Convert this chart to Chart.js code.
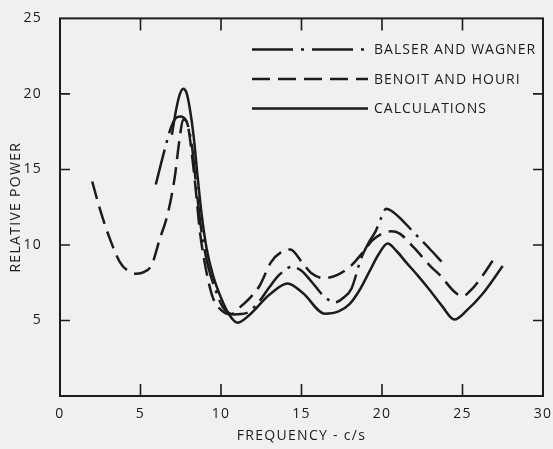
<!DOCTYPE html>
<html>
<head>
<meta charset="utf-8">
<script src="https://cdn.jsdelivr.net/npm/chart.js@4.4.0/dist/chart.umd.min.js"></script>
<style>
html, body { margin: 0; padding: 0; background: #f0f0f0; }
canvas { display: block; }
</style>
</head>
<body>
<canvas id="chart" width="553" height="449"></canvas>
<script>
// legend order, top to bottom
const seriesNames = ["BALSER AND WAGNER", "BENOIT AND HOURI", "CALCULATIONS"];

// Balser and Wagner (dash-dot)
const bwFreq  = [5.95, 6.4, 6.9, 7.15, 7.45, 7.85, 8.2, 8.5, 8.8, 9.2, 9.7, 10.1, 10.8, 11.6, 12.4, 13.0, 13.6, 14.4, 15.0, 15.6, 16.4, 17.1, 17.6, 18.1, 18.7, 19.2, 19.6, 19.95, 20.25, 20.6, 21.2, 22.0, 23.0, 23.7];
const bwPower = [14.0, 15.9, 17.8, 18.35, 18.5, 18.2, 16.5, 13.5, 10.8, 8.6, 6.9, 5.9, 5.4, 5.5, 6.3, 7.2, 8.0, 8.55, 8.3, 7.6, 6.6, 6.2, 6.5, 7.1, 9.1, 10.2, 10.9, 11.8, 12.4, 12.25, 11.7, 10.8, 9.7, 8.9];

// Benoit and Houri (dashed)
const bhFreq  = [2.0, 2.5, 3.1, 3.7, 4.2, 4.75, 5.2, 5.7, 6.2, 6.7, 7.13, 7.4, 7.65, 7.9, 8.1, 8.4, 8.7, 9.1, 9.5, 10.0, 10.6, 11.2, 11.8, 12.4, 13.1, 13.85, 14.3, 15.1, 15.6, 16.4, 17.2, 18.1, 18.8, 19.4, 20.0, 20.55, 21.1, 22.0, 23.05, 23.6, 24.5, 25.0, 25.6, 26.2, 26.9];
const bhPower = [14.2, 12.3, 10.4, 8.9, 8.3, 8.1, 8.2, 8.7, 10.4, 12.1, 14.5, 16.8, 18.3, 18.1, 16.8, 14.0, 10.8, 8.2, 6.5, 5.7, 5.4, 5.9, 6.5, 7.3, 8.85, 9.6, 9.7, 8.75, 8.15, 7.8, 8.0, 8.65, 9.5, 10.3, 10.75, 10.9, 10.75, 9.8, 8.55, 8.0, 6.9, 6.6, 7.1, 7.9, 9.0];

// Calculations (solid)
const calcFreq  = [6.95, 7.23, 7.45, 7.65, 7.85, 8.06, 8.3, 8.55, 8.8, 9.1, 9.5, 10.0, 10.5, 11.05, 11.8, 13.0, 14.15, 15.1, 16.45, 17.3, 18.0, 18.6, 19.2, 19.8, 20.35, 20.9, 21.5, 22.2, 22.9, 23.7, 24.5, 25.3, 26.2, 27.5];
const calcPower = [17.3, 19.05, 20.0, 20.35, 20.1, 19.05, 17.2, 14.5, 12.0, 9.8, 8.0, 6.5, 5.4, 4.85, 5.4, 6.7, 7.45, 6.8, 5.45, 5.6, 6.1, 7.0, 8.2, 9.4, 10.1, 9.6, 8.85, 8.0, 7.1, 6.0, 5.06, 5.7, 6.7, 8.6];

const xTicks = [0, 5, 10, 15, 20, 25, 30];
const yTicks = [0, 5, 10, 15, 20, 25];

const dashDot = [36, 7, 3, 7];
const dashed = [18, 8];

function toPoints(xs, ys) {
    return xs.map((v, i) => ({x: v, y: ys[i]}));
}

const ink = '#1c1c1c';
const fontFamily = "'Open Sans', 'DejaVu Sans', sans-serif";

// frame and inward tick marks
const frameTicks = {
    id: 'frameTicks',
    afterDraw(chart) {
        const {ctx, chartArea: a, scales: {x, y}} = chart;
        ctx.save();
        ctx.strokeStyle = ink;
        ctx.lineWidth = 2;
        ctx.strokeRect(a.left, a.top, a.right - a.left, a.bottom - a.top);
        ctx.lineWidth = 1.6;
        ctx.beginPath();
        xTicks.slice(1, -1).forEach(v => {
            const px = x.getPixelForValue(v);
            ctx.moveTo(px, a.bottom); ctx.lineTo(px, a.bottom - 12);
            ctx.moveTo(px, a.top); ctx.lineTo(px, a.top + 12);
        });
        yTicks.slice(1, -1).forEach(v => {
            const py = y.getPixelForValue(v);
            ctx.moveTo(a.left, py); ctx.lineTo(a.left + 10, py);
            ctx.moveTo(a.right, py); ctx.lineTo(a.right - 10, py);
        });
        ctx.stroke();
        ctx.restore();
    }
};

// legend drawn inside the plot, top right
const innerLegend = {
    id: 'innerLegend',
    afterDatasetsDraw(chart) {
        const {ctx, chartArea: a} = chart;
        ctx.save();
        ctx.strokeStyle = ink;
        ctx.fillStyle = ink;
        ctx.lineWidth = 2.5;
        ctx.font = "14px " + fontFamily;
        ctx.letterSpacing = '1px';
        ctx.textBaseline = 'middle';
        const x0 = a.left + 192, x1 = a.left + 308;
        chart.data.datasets.forEach((ds, i) => {
            const yy = a.top + 31 + 29.5 * i;
            ctx.setLineDash(i === 0 ? [41, 8, 3, 8] : ds.borderDash);
            ctx.beginPath();
            ctx.moveTo(x0, yy);
            ctx.lineTo(x1, yy);
            ctx.stroke();
            ctx.fillText(ds.label, x1 + 6, yy + 1);
        });
        ctx.restore();
    }
};

const spacing = {
    id: 'spacing',
    beforeDraw(chart) { chart.ctx.letterSpacing = '1.3px'; },
    afterDraw(chart) { chart.ctx.letterSpacing = '0px'; }
};

const lineStyle = {
    borderColor: ink,
    backgroundColor: ink,
    borderWidth: 2.5,
    pointRadius: 0,
    cubicInterpolationMode: 'monotone',
    fill: false
};

new Chart(document.getElementById('chart'), {
    type: 'line',
    data: {
        datasets: [
            Object.assign({label: seriesNames[0], data: toPoints(bwFreq, bwPower), borderDash: dashDot}, lineStyle),
            Object.assign({label: seriesNames[1], data: toPoints(bhFreq, bhPower), borderDash: dashed}, lineStyle),
            Object.assign({label: seriesNames[2], data: toPoints(calcFreq, calcPower), borderDash: []}, lineStyle)
        ]
    },
    options: {
        responsive: false,
        animation: false,
        devicePixelRatio: 1,
        layout: { padding: { top: 12, right: 9, left: 0, bottom: 0 } },
        plugins: {
            legend: { display: false },
            tooltip: { enabled: false }
        },
        scales: {
            x: {
                type: 'linear',
                min: 0, max: 30,
                afterFit(scale) { scale.height = 53; },
                afterBuildTicks(scale) { scale.ticks = xTicks.map(v => ({value: v})); },
                grid: { display: false },
                border: { display: false },
                ticks: { color: ink, padding: 2, font: { family: fontFamily, size: 14 } },
                title: {
                    display: true,
                    text: 'FREQUENCY - c/s',
                    color: ink,
                    padding: { top: 0, bottom: 5 },
                    font: { family: fontFamily, size: 14 }
                }
            },
            y: {
                min: 0, max: 25,
                afterFit(scale) { scale.width = 60; },
                afterBuildTicks(scale) { scale.ticks = yTicks.map(v => ({value: v})); },
                grid: { display: false },
                border: { display: false },
                ticks: {
                    color: ink, padding: 10,
                    font: { family: fontFamily, size: 14 },
                    callback: v => v === 0 ? '' : v
                },
                title: {
                    display: true,
                    text: 'RELATIVE POWER',
                    color: ink,
                    padding: { top: 8, bottom: 0 },
                    font: { family: fontFamily, size: 14 }
                }
            }
        }
    },
    plugins: [spacing, frameTicks, innerLegend]
});
</script>
</body>
</html>
